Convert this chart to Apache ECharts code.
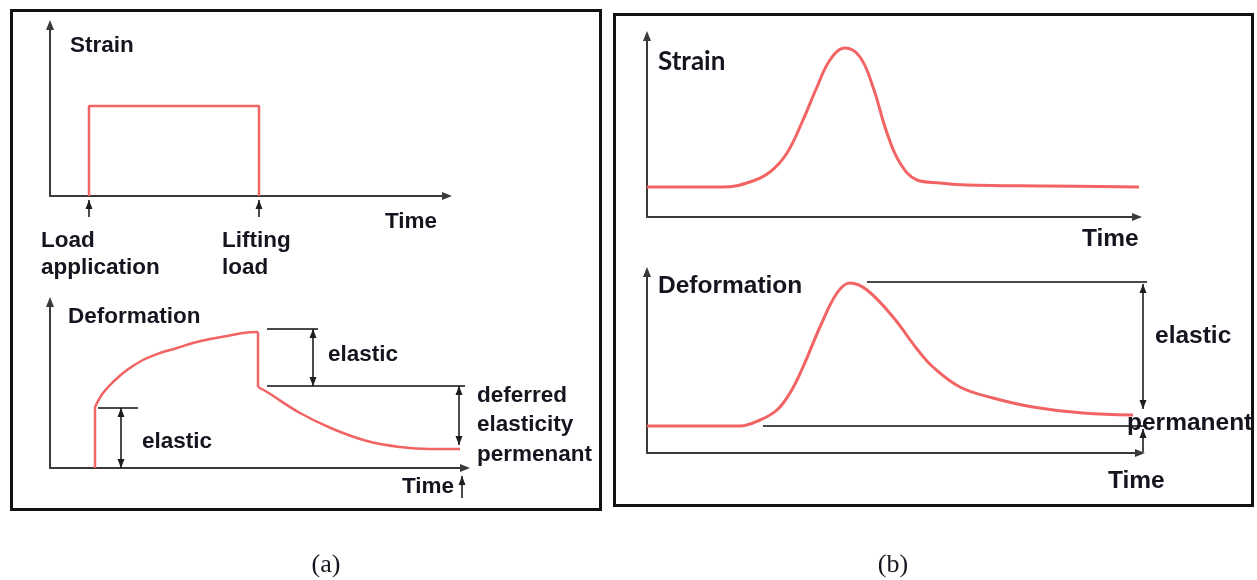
<!DOCTYPE html>
<html><head><meta charset="utf-8">
<script src="https://cdn.jsdelivr.net/npm/echarts@6/dist/echarts.min.js"></script>
<style>html,body{margin:0;padding:0;background:#fff}#c{width:1257px;height:580px}</style>
</head><body><div id="c"></div>
<script>
// ---------- (a) Strain: step load ----------
const aStrain = [[3.9,0],[3.9,9.0],[20.9,9.0],[20.9,0]];
// ---------- (a) Deformation ----------
const aLoadJump   = [[4.5,0],[4.5,6.1]];
const aCreep      = [[4.5,6.1],[5.3,7.5],[6.3,8.6],[7.7,9.8],[9.3,10.8],[11.0,11.5],[12.7,12.0],[14.3,12.5],[16.0,12.9],[17.7,13.2],[19.3,13.5],[20.8,13.6]];
const aUnloadJump = [[20.8,13.6],[20.8,8.1]];
const aRecovery   = [[20.8,8.1],[21.7,7.6],[25.0,5.5],[28.3,3.9],[31.7,2.7],[35.0,2.1],[38.0,1.9],[41.0,1.9]];
// guide segments and dimension arrows (x, yTop, yBottom, heads)
const aGuides = [[[4.8,6.0],[8.8,6.0]],[[21.7,13.9],[26.8,13.9]],[[21.7,8.2],[41.5,8.2]]];
const aStrainArrows = [[3.9,-0.4,-2.1,'up'],[20.9,-0.4,-2.1,'up']];
const aDeformArrows = [[7.1,6.0,0,'both'],[26.3,13.9,8.2,'both'],[40.9,8.2,2.3,'both'],[41.2,-0.8,-3.0,'up']];
// ---------- (b) Strain: pulse ----------
const bStrain = [[0,3.0],[7.6,3.0],[10.3,3.5],[12.3,4.5],[14.0,6.4],[15.6,9.7],[17.0,13.0],[18.3,15.7],[19.8,16.9],[21.3,16.0],[22.6,13.0],[24.0,8.4],[25.3,5.4],[27.0,3.7],[29.3,3.4],[32.0,3.2],[40.0,3.1],[49.2,3.0]];
// ---------- (b) Deformation ----------
const bDeform = [[0,2.7],[9.3,2.7],[11.3,3.3],[13.0,4.3],[14.3,6.0],[15.6,8.6],[17.3,12.6],[19.0,16.0],[20.3,17.0],[22.0,16.3],[24.6,13.6],[27.0,10.4],[28.6,8.6],[31.3,6.6],[34.6,5.5],[38.6,4.6],[43.6,4.0],[48.6,3.8]];
const bGuides = [[[22.0,17.1],[50.0,17.1]],[[11.6,2.7],[50.0,2.7]]];
const bDeformArrows = [[49.6,16.9,4.4,'both'],[49.6,2.4,0.1,'up']];

// ---------- labels ----------
const aLabels = ['Strain','Time','Load','application','Lifting','load','Deformation','elastic','elastic','deferred','elasticity','permenant','Time'];
const bLabels = ['Strain','Time','Deformation','elastic','permanent','Time'];
const captions = ['(a)','(b)'];

const RED = '#f26464';
const AX = '#3a3a3a';
const FA = 'bold 22.5px "Liberation Sans", Arial, sans-serif';
const FB = 'bold 24.5px "Liberation Sans", Arial, sans-serif';
const FBS = 'bold 26px Lato, "Open Sans", sans-serif';
const FC = '26px "Liberation Serif", "DejaVu Serif", serif';
const TXT = '#15151f';

// grids 0-3 carry the visible axes; grid 4 is an annotation layer over (b) deformation
// with the same 10 px/unit scale but a slightly wider time range (axes hidden)
const grids = [
  {left:50, top:25, width:397, height:171},
  {left:50, top:302, width:415, height:166},
  {left:647, top:36, width:490, height:181},
  {left:647, top:272, width:493, height:181},
  {left:647, top:272, width:513, height:181}
];
const xMax = [39.7, 41.5, 49.0, 49.3, 51.3];
const yMax = [17.1, 16.6, 18.1, 18.1, 18.1];

function axisCommon(show){
  return {
    type:'value', min:0, show:show, splitLine:{show:false}, axisTick:{show:false}, axisLabel:{show:false},
    axisLine:{show:show, onZero:false, symbol:['none','triangle'], symbolSize:[8,10], lineStyle:{color:AX, width:2}}
  };
}
const xAxes = grids.map((g,i)=>Object.assign(axisCommon(i<4),{gridIndex:i, max:xMax[i], position:'bottom'}));
const yAxes = grids.map((g,i)=>Object.assign(axisCommon(i<4),{gridIndex:i, max:yMax[i], position:'left'}));

function redSeries(gi, data, smooth, w){
  return {type:'line', xAxisIndex:gi, yAxisIndex:gi, data:data, smooth:smooth, symbol:'none', clip:false, silent:true,
    lineStyle:{color:RED, width:w||2.5}, z:3};
}
function guideSeries(gi, seg){
  return {type:'line', xAxisIndex:gi, yAxisIndex:gi, data:seg, symbol:'none', clip:false, silent:true,
    lineStyle:{color:'#4a4a4a', width:2}, z:2};
}
function arrowSeries(gi, a){
  const [x, y1, y2, heads] = a;
  const H = 9;
  const top = {value:[x,y1], symbol:'triangle', symbolSize:[7,H], symbolRotate:0, symbolOffset:[0,H/2]};
  const bot = heads==='both'
    ? {value:[x,y2], symbol:'triangle', symbolSize:[7,H], symbolRotate:180, symbolOffset:[0,-H/2]}
    : {value:[x,y2], symbol:'none'};
  return {type:'line', xAxisIndex:gi, yAxisIndex:gi, data:[top,bot], showSymbol:true, showAllSymbol:true, clip:false, silent:true,
    itemStyle:{color:'#1e1e1e'}, lineStyle:{color:'#1e1e1e', width:1.6}, z:4};
}

const series = [];
series.push(redSeries(0, aStrain, false, 2.5));
aStrainArrows.forEach(a=>series.push(arrowSeries(0,a)));
series.push(redSeries(1, aLoadJump, false, 2.5));
series.push(redSeries(1, aCreep, 0.4, 2.5));
series.push(redSeries(1, aUnloadJump, false, 2.5));
series.push(redSeries(1, aRecovery, 0.4, 2.5));
aGuides.forEach(s=>series.push(guideSeries(1,s)));
aDeformArrows.forEach(a=>series.push(arrowSeries(1,a)));
series.push(redSeries(2, bStrain, 0.4, 3));
series.push(redSeries(3, bDeform, 0.4, 3));
bGuides.forEach(s=>series.push(guideSeries(4,s)));
bDeformArrows.forEach(a=>series.push(arrowSeries(4,a)));

function txt(t, x, y, font, align){
  return {type:'text', silent:true, z:10, x:x, y:y,
    style:{text:t, font:font, fill:TXT, align:align||'left', verticalAlign:'middle', textAlign:align||'left', textVerticalAlign:'middle'}};
}
const aPos = [[70,46],[385,222],[41,241],[41,268],[222,241],[222,268],[68,317],[328,355],[142,442],[477,396],[477,425],[477,455],[402,487]];
const bPos = [[658,62],[1082,239],[658,286],[1155,336],[1127,423],[1108,481]];
const graphics = [
  {type:'rect', silent:true, shape:{x:11.5, y:10.5, width:589, height:499}, style:{fill:'none', stroke:'#111', lineWidth:3}},
  {type:'rect', silent:true, shape:{x:614.5, y:14.5, width:638, height:491}, style:{fill:'none', stroke:'#111', lineWidth:3}}
];
aLabels.forEach((t,i)=>graphics.push(txt(t, aPos[i][0], aPos[i][1], FA)));
bLabels.forEach((t,i)=>graphics.push(txt(t, bPos[i][0], bPos[i][1], i===0?FBS:FB)));
graphics.push(txt(captions[0], 326, 565, FC, 'center'));
graphics.push(txt(captions[1], 893, 565, FC, 'center'));

const chart = echarts.init(document.getElementById('c'), null, {renderer:'canvas'});
chart.setOption({
  animation:false,
  backgroundColor:'#ffffff',
  grid: grids.map(g=>Object.assign({containLabel:false, outerBoundsMode:'none'}, g)),
  xAxis: xAxes,
  yAxis: yAxes,
  series: series,
  graphic: graphics
});
</script></body></html>
